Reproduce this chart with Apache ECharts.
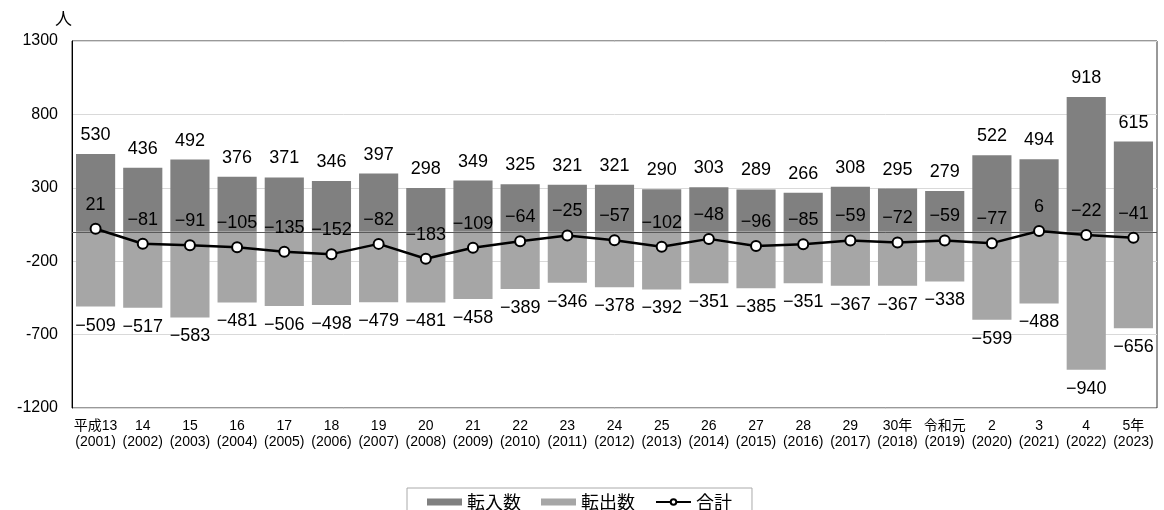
<!DOCTYPE html>
<html>
<head>
<meta charset="utf-8">
<script src="https://cdn.jsdelivr.net/npm/echarts@6/dist/echarts.min.js"></script>
<style>
  html, body { margin: 0; padding: 0; background: #fff; }
  #chart { width: 1164px; height: 510px; }
</style>
</head>
<body>
<div id="chart"></div>
<script>
// 年次別 転入数・転出数・合計（人）
const years = [
  '平成13\n(2001)', '14\n(2002)', '15\n(2003)', '16\n(2004)', '17\n(2005)', '18\n(2006)',
  '19\n(2007)', '20\n(2008)', '21\n(2009)', '22\n(2010)', '23\n(2011)', '24\n(2012)',
  '25\n(2013)', '26\n(2014)', '27\n(2015)', '28\n(2016)', '29\n(2017)', '30年\n(2018)',
  '令和元\n(2019)', '2\n(2020)', '3\n(2021)', '4\n(2022)', '5年\n(2023)'
];
const inflow = [530, 436, 492, 376, 371, 346, 397, 298, 349, 325, 321, 321, 290, 303, 289, 266, 308, 295, 279, 522, 494, 918, 615];
const outflow = [-509, -517, -583, -481, -506, -498, -479, -481, -458, -389, -346, -378, -392, -351, -385, -351, -367, -367, -338, -599, -488, -940, -656];
const total = [21, -81, -91, -105, -135, -152, -82, -183, -109, -64, -25, -57, -102, -48, -96, -85, -59, -72, -59, -77, 6, -22, -41];

const FONT = '"Liberation Sans", "Noto Sans CJK JP", sans-serif';
const CJK = '"Noto Sans CJK JP", "Liberation Sans", sans-serif';
const fmt = p => String(p.value).replace('-', '−');
const dataLabel = (position) => ({
  show: true, position, distance: 10, fontSize: 18, color: '#000', fontFamily: FONT, formatter: fmt
});

const chart = echarts.init(document.getElementById('chart'), null, { renderer: 'canvas' });
chart.setOption({
  animation: false,
  textStyle: { fontFamily: FONT, color: '#000' },
  grid: {
    left: 72, right: 7, top: 41, bottom: 102,
    show: true, borderColor: '#333', borderWidth: 1, backgroundColor: 'transparent'
  },
  legend: {
    top: 488,
    left: 407,
    itemWidth: 35,
    itemHeight: 7,
    itemGap: 20,
    padding: [5, 20, 14, 20],
    borderColor: '#aaa',
    borderWidth: 1,
    textStyle: { fontFamily: CJK, fontSize: 18, color: '#000' },
    data: [
      { name: '転入数', icon: 'rect' },
      { name: '転出数', icon: 'rect' },
      { name: '合計' }
    ]
  },
  xAxis: {
    type: 'category',
    data: years,
    axisLine: { show: false },
    axisTick: { show: false },
    axisLabel: {
      interval: 0, fontSize: 14, lineHeight: 16, margin: 10, color: '#000', fontFamily: FONT
    }
  },
  yAxis: {
    type: 'value',
    min: -1200, max: 1300, interval: 500,
    name: '人',
    nameLocation: 'end',
    nameGap: 14,
    nameTextStyle: { fontSize: 17, color: '#000', align: 'right', fontFamily: CJK },
    axisLine: { show: true, lineStyle: { color: '#000', width: 1 } },
    axisTick: { show: false },
    axisLabel: { fontSize: 16, color: '#000', margin: 14, fontFamily: FONT, formatter: v => String(v) },
    splitLine: { show: true, lineStyle: { color: '#d9d9d9', width: 1 } }
  },
  series: [
    {
      name: '転入数', type: 'bar', stack: 'flow', data: inflow,
      barCategoryGap: '17%',
      itemStyle: { color: '#808080' },
      label: dataLabel('top')
    },
    {
      name: '転出数', type: 'bar', stack: 'flow', data: outflow,
      barCategoryGap: '17%',
      itemStyle: { color: '#a6a6a6' },
      label: dataLabel('bottom'),
      markLine: {
        silent: true, symbol: 'none', label: { show: false },
        lineStyle: { color: '#595959', width: 1, type: 'solid' },
        data: [{ yAxis: 0 }]
      }
    },
    {
      name: '合計', type: 'line', data: total,
      symbol: 'circle', symbolSize: 10,
      lineStyle: { color: '#000', width: 2.5 },
      itemStyle: { color: '#fff', borderColor: '#000', borderWidth: 2 },
      label: Object.assign(dataLabel('top'), { distance: 9 }),
      z: 5
    }
  ]
});
</script>
</body>
</html>
